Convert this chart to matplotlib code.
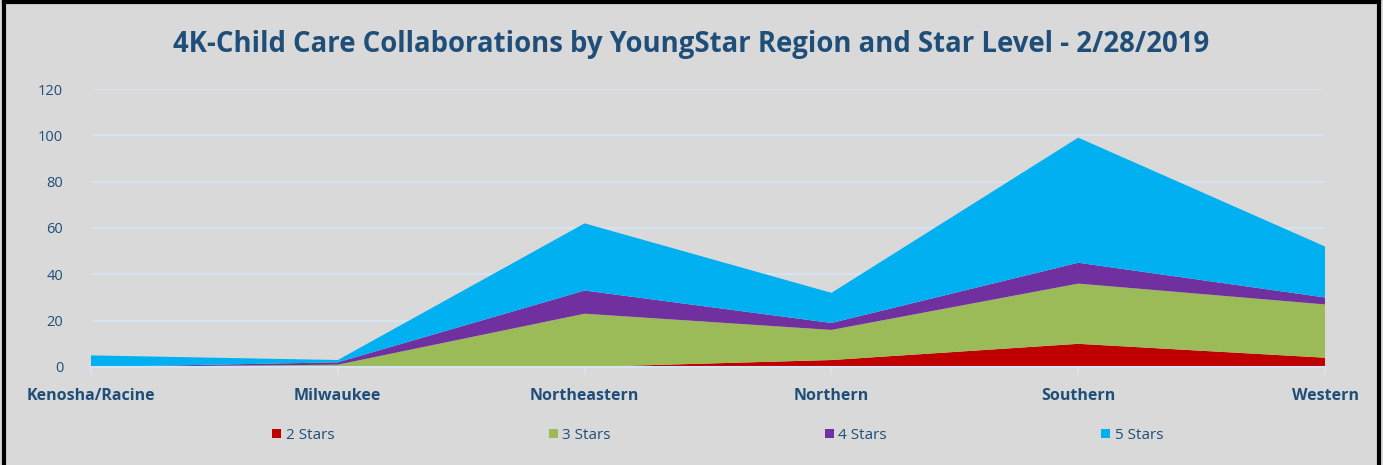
import matplotlib
matplotlib.use("Agg")
from matplotlib import pyplot as plt
from matplotlib.lines import Line2D
from matplotlib.patches import Patch

regions = ["Kenosha/Racine", "Milwaukee", "Northeastern", "Northern", "Southern", "Western"]
stars_2 = [0, 0, 0, 3, 10, 4]
stars_3 = [0, 1, 23, 13, 26, 23]
stars_4 = [0, 1, 10, 3, 9, 3]
stars_5 = [5, 1, 29, 13, 54, 22]
series_names = ["2 Stars", "3 Stars", "4 Stars", "5 Stars"]
colors = ["#C00000", "#9BBB59", "#7030A0", "#00B0F0"]
y_ticks = [0, 20, 40, 60, 80, 100, 120]

bg = "#D9D9D9"
text_col = "#1F4E79"
grid_col = "#D5E3F2"

fig = plt.figure(figsize=(13.83, 4.65), dpi=100, facecolor=bg)
ax = fig.add_axes([0.0658, 0.2108, 0.8923, 0.5978])
ax.set_facecolor(bg)

x = list(range(len(regions)))
ax.stackplot(x, stars_2, stars_3, stars_4, stars_5, colors=colors, labels=series_names)

ax.set_xlim(0, len(regions) - 1)
ax.set_ylim(0, 120)
ax.set_yticks(y_ticks)
ax.set_yticklabels([str(v) for v in y_ticks], color=text_col, fontsize=10.5, family="Open Sans")
ax.set_xticks(x)
ax.set_xticklabels(regions, color=text_col, fontsize=11.5, fontweight="bold", family="Open Sans")
ax.tick_params(axis="y", length=0, pad=20)
ax.tick_params(axis="x", length=5, color=grid_col, width=1.5, pad=10)
ax.grid(axis="y", color=grid_col, linewidth=1.5)
ax.set_axisbelow(True)
for s in ["top", "right", "left"]:
    ax.spines[s].set_visible(False)
ax.spines["bottom"].set_color(grid_col)
ax.spines["bottom"].set_linewidth(1.5)

fig.text(0.5, 0.905, "4K-Child Care Collaborations by YoungStar Region and Star Level - 2/28/2019",
         ha="center", va="center", fontsize=19.8, fontweight="bold", color=text_col, family="Open Sans")

handles = [Patch(facecolor=c, edgecolor="none") for c in colors]
leg = fig.legend(handles, series_names, loc="center", bbox_to_anchor=(0.519, 0.064), ncol=4,
                 frameon=False, handlelength=0.6, handleheight=0.6, handletextpad=0.3,
                 columnspacing=14.0, prop={"family": "Open Sans", "size": 11})
for t in leg.get_texts():
    t.set_color(text_col)

# black frame on left, top and right (bottom is cut off in the original)
for xs, ys in [([0.003, 0.003], [0.0, 0.995]), ([0.003, 0.997], [0.995, 0.995]), ([0.997, 0.997], [0.0, 0.995])]:
    fig.add_artist(Line2D(xs, ys, transform=fig.transFigure, color="black", linewidth=3))

fig.savefig("out.png", dpi=100, facecolor=bg)
